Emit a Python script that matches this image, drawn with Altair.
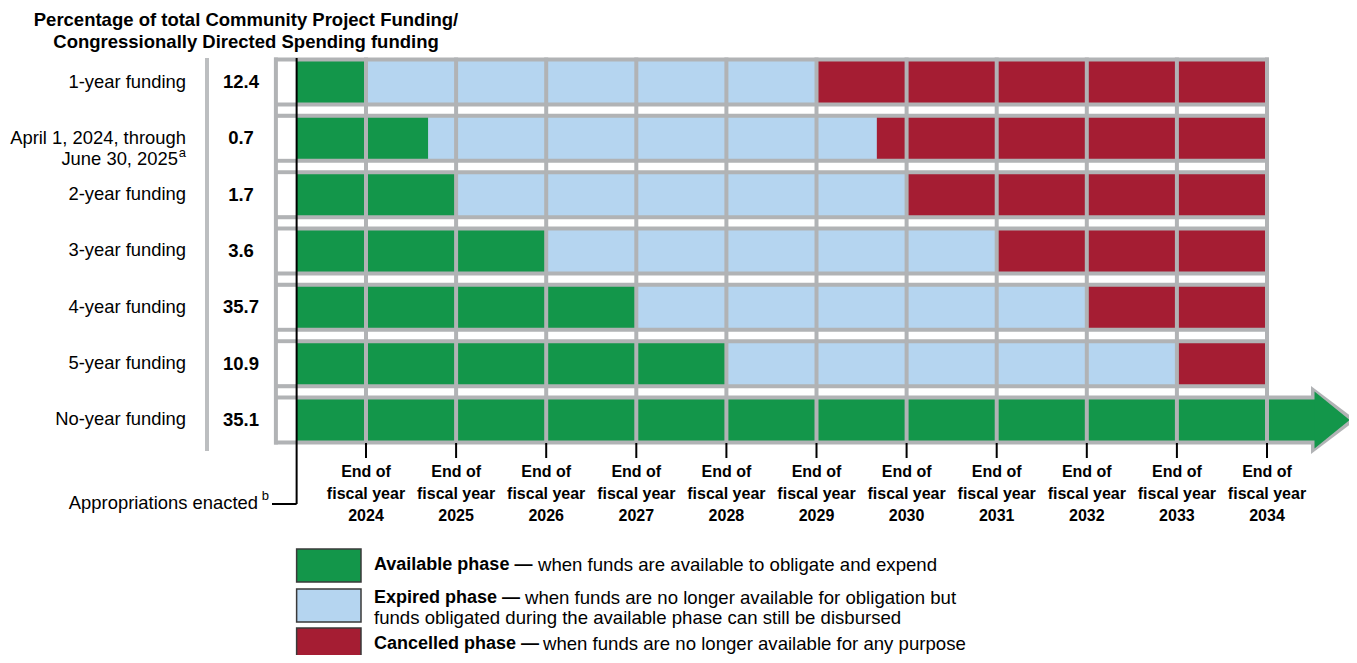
import altair as alt
import pandas as pd

# ---------------- data ----------------
title_text = "Percentage of total Community Project Funding/\nCongressionally Directed Spending funding"
row_labels = ["1-year funding", "April 1, 2024, through\nJune 30, 2025", "2-year funding",
              "3-year funding", "4-year funding", "5-year funding", "No-year funding"]
row_notes = ["", "a", "", "", "", "", ""]
shares = ["12.4", "0.7", "1.7", "3.6", "35.7", "10.9", "35.1"]
# end of each phase, in fiscal-year-end units (2024 = end of fiscal year 2024)
available_end = [2024.0, 2024.69, 2025.0, 2026.0, 2027.0, 2028.0, None]
expired_end = [2029.0, 2029.67, 2030.0, 2031.0, 2032.0, 2033.0, None]
cancelled_end = 2034.0
grid_start = 2023.0
enacted = 2023.23
fiscal_years = [2024, 2025, 2026, 2027, 2028, 2029, 2030, 2031, 2032, 2033, 2034]
enacted_label = "Appropriations enacted"
enacted_note = "b"
phases = ["Available", "Expired", "Cancelled"]
phase_bold = ["Available phase \u2014", "Expired phase \u2014", "Cancelled phase \u2014"]
phase_desc = [["when funds are available to obligate and expend"],
              ["when funds are no longer available for obligation but",
               "funds obligated during the available phase can still be disbursed"],
              ["when funds are no longer available for any purpose"]]

# ---------------- layout ----------------
W, H = 1341, 647
FONT = "Liberation Sans"


def fx(px):
    return 2024 + (px - 366) / 90.1


def fy(py):
    return (py - 82) / 56.33


def dd(p):
    return p / 56.33


FH = dd(20.5)   # half height of coloured fill
BH = dd(24.5)   # half height of grey row box
n = len(row_labels)
last = n - 1

xs = alt.Scale(domain=[fx(8), fx(8 + W)], nice=False, zero=False)
ys = alt.Scale(domain=[fy(8), fy(8 + H)], nice=False, zero=False, reverse=True)

GREEN, BLUE, RED = "#13964A", "#B5D5F0", "#A51D33"
GRID = "#B1B3B5"
color_scale = alt.Scale(domain=phases + ["Grid", "Blank"],
                        range=[GREEN, BLUE, RED, GRID, "#FFFFFF"])


def X(f="x"):
    return alt.X(f"{f}:Q", scale=xs, axis=None)


def Y(f="y"):
    return alt.Y(f"{f}:Q", scale=ys, axis=None)


def C():
    return alt.Color("phase:N", scale=color_scale, legend=None)


arrow_base = fx(1311)
arrow_tip = fx(1356)
body_end = fx(1316)

# row boxes
boxes, segs = [], []
for i in range(n):
    x2 = cancelled_end if available_end[i] is not None else arrow_base
    boxes.append(dict(x=grid_start - 0.02, x2=x2 + 0.02, y=i - BH, y2=i + BH, phase="Grid"))
    segs.append(dict(x=grid_start, x2=enacted, y=i - FH, y2=i + FH, phase="Blank"))
    if available_end[i] is not None:
        segs.append(dict(x=enacted, x2=available_end[i], y=i - FH, y2=i + FH, phase="Available"))
        segs.append(dict(x=available_end[i], x2=expired_end[i], y=i - FH, y2=i + FH, phase="Expired"))
        segs.append(dict(x=expired_end[i], x2=cancelled_end, y=i - FH, y2=i + FH, phase="Cancelled"))
    else:
        segs.append(dict(x=enacted, x2=body_end, y=i - FH, y2=i + FH, phase="Available"))

box_layer = alt.Chart(pd.DataFrame(boxes)).mark_rect().encode(
    x=X(), x2="x2:Q", y=Y(), y2="y2:Q", color=C())

arrow_gray = pd.DataFrame([
    dict(x=arrow_base, y=last - dd(34), y2=last + dd(34), phase="Grid"),
    dict(x=arrow_tip, y=last, y2=last, phase="Grid")])
arrow_green = pd.DataFrame([
    dict(x=fx(1314.5), y=last - dd(28.5), y2=last + dd(28.5), phase="Available"),
    dict(x=fx(1349.5), y=last, y2=last, phase="Available")])
arrow_gray_layer = alt.Chart(arrow_gray).mark_area(orient="vertical").encode(
    x=X(), y=Y(), y2="y2:Q", color=C())
arrow_green_layer = alt.Chart(arrow_green).mark_area(orient="vertical").encode(
    x=X(), y=Y(), y2="y2:Q", color=C())

seg_layer = alt.Chart(pd.DataFrame(segs)).mark_rect().encode(
    x=X(), x2="x2:Q", y=Y(), y2="y2:Q", color=C())

grid_df = pd.DataFrame(dict(x=[grid_start] + fiscal_years,
                            y=[-BH] * (len(fiscal_years) + 1),
                            y2=[last + BH] * (len(fiscal_years) + 1)))
grid_layer = alt.Chart(grid_df).mark_rule(color=GRID, strokeWidth=4).encode(
    x=X(), y=Y(), y2="y2:Q")

tick_df = pd.DataFrame(dict(x=fiscal_years, y=[fy(443)] * len(fiscal_years),
                            y2=[fy(458)] * len(fiscal_years)))
tick_layer = alt.Chart(tick_df).mark_rule(color="black", strokeWidth=2).encode(
    x=X(), y=Y(), y2="y2:Q")

enact_v = alt.Chart(pd.DataFrame([dict(x=enacted, y=fy(58), y2=fy(504))])).mark_rule(
    color="black", strokeWidth=2).encode(x=X(), y=Y(), y2="y2:Q")
enact_h = alt.Chart(pd.DataFrame([dict(x=fx(272), x2=enacted, y=fy(504))])).mark_rule(
    color="black", strokeWidth=2).encode(x=X(), x2="x2:Q", y=Y())

sep_layer = alt.Chart(pd.DataFrame([dict(x=fx(207), y=fy(58), y2=fy(451))])).mark_rule(
    color="#BCBEC0", strokeWidth=4).encode(x=X(), y=Y(), y2="y2:Q")

# texts (multi-line texts are placed by their first line)
title_layer = alt.Chart(pd.DataFrame([dict(x=fx(246), y=fy(20), text=title_text)])).mark_text(
    font=FONT, fontSize=18.5, fontWeight="bold", align="center", baseline="middle",
    lineBreak="\n", lineHeight=22, color="black").encode(x=X(), y=Y(), text="text:N")

lab_rows, note_rows = [], []
for i, lab in enumerate(row_labels):
    lines = lab.split("\n")
    for k, ln in enumerate(lines):
        is_last = k == len(lines) - 1
        xr = fx(178) if (is_last and row_notes[i]) else fx(186)
        lab_rows.append(dict(x=xr, y=i + k * dd(21.5) + dd(-0.5), text=ln))
        if is_last and row_notes[i]:
            note_rows.append(dict(x=fx(186), y=i + k * dd(21.5) + dd(-7), text=row_notes[i]))
note_rows.append(dict(x=fx(269), y=fy(496), text=enacted_note))
lab_rows.append(dict(x=fx(258), y=fy(503), text=enacted_label))

label_layer = alt.Chart(pd.DataFrame(lab_rows)).mark_text(
    font=FONT, fontSize=18.4, align="right", baseline="middle", color="black").encode(
    x=X(), y=Y(), text="text:N")
note_layer = alt.Chart(pd.DataFrame(note_rows)).mark_text(
    font=FONT, fontSize=13, align="right", baseline="middle", color="black").encode(
    x=X(), y=Y(), text="text:N")

val_df = pd.DataFrame(dict(x=[fx(241)] * n, y=list(range(n)), text=shares))
val_layer = alt.Chart(val_df).mark_text(
    font=FONT, fontSize=18.5, fontWeight="bold", align="center", baseline="middle",
    color="black").encode(x=X(), y=Y(), text="text:N")

tl_df = pd.DataFrame(dict(x=fiscal_years, y=[fy(472)] * len(fiscal_years),
                          text=[f"End of\nfiscal year\n{yr}" for yr in fiscal_years]))
tl_layer = alt.Chart(tl_df).mark_text(
    font=FONT, fontSize=16, fontWeight="bold", align="center", baseline="middle",
    lineBreak="\n", lineHeight=22, color="black").encode(x=X(), y=Y(), text="text:N")

# legend (nudged up a little so that the last line fits inside the page)
leg_box_top = [549, 589, 628]
leg_box_bot = [582, 622, 662]
leg_text_y = [565, 598, 644]
leg_desc_x = [538, 525, 543]
leg_boxes = pd.DataFrame([dict(x=enacted, x2=fx(361), y=fy(t), y2=fy(b), phase=p)
                          for t, b, p in zip(leg_box_top, leg_box_bot, phases)])
leg_box_layer = alt.Chart(leg_boxes).mark_rect(stroke="#3A3A3A", strokeWidth=1.5).encode(
    x=X(), x2="x2:Q", y=Y(), y2="y2:Q", color=C())
leg_bold_df = pd.DataFrame([dict(x=fx(374), y=fy(ty), text=t)
                            for ty, t in zip(leg_text_y, phase_bold)])
leg_bold_layer = alt.Chart(leg_bold_df).mark_text(
    font=FONT, fontSize=18, fontWeight="bold", align="left", baseline="middle",
    color="black").encode(x=X(), y=Y(), text="text:N")
norm_rows = []
for k, lines in enumerate(phase_desc):
    for j, ln in enumerate(lines):
        norm_rows.append(dict(x=fx(leg_desc_x[k] if j == 0 else 374),
                              y=fy(leg_text_y[k] + 20 * j), text=ln))
leg_norm_layer = alt.Chart(pd.DataFrame(norm_rows)).mark_text(
    font=FONT, fontSize=18.6, align="left", baseline="middle", color="black").encode(
    x=X(), y=Y(), text="text:N")

chart = alt.layer(
    box_layer, arrow_gray_layer, seg_layer, arrow_green_layer, grid_layer, tick_layer,
    enact_v, enact_h, sep_layer, title_layer, label_layer, note_layer, val_layer,
    tl_layer, leg_box_layer, leg_bold_layer, leg_norm_layer
).properties(
    width=W, height=H, autosize=alt.AutoSizeParams(type="none"), padding=0,
    background="white"
).configure_view(stroke=None)

chart.save("out.html", embed_options={"renderer": "svg", "actions": False})
